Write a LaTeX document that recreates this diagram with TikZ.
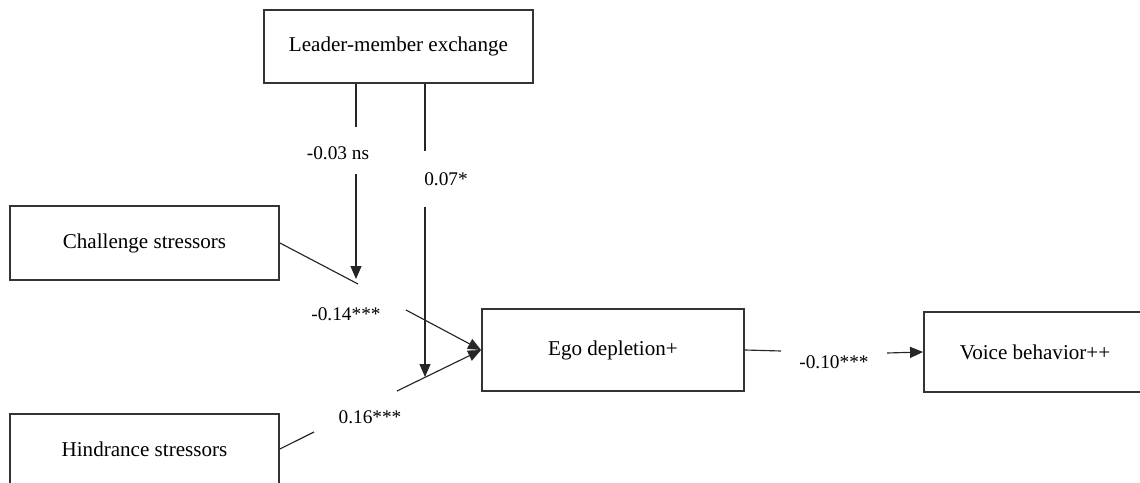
\documentclass[tikz,border=0pt]{standalone}
\usepackage{fontspec}
\setmainfont{Liberation Serif}
\usetikzlibrary{arrows.meta,positioning,calc}
\tikzset{
    box/.style={
        rectangle,
        draw=black!80,
        line width=1.1pt,
        fill=white,
        inner sep=0pt,
        align=center,
        font=\fontsize{12}{14}\selectfont
    },
    coef/.style={
        inner sep=0pt,
        font=\fontsize{11}{13}\selectfont
    },
    conn/.style={
        draw=black!85,
        line width=0.65pt
    }
}

\begin{document}
\begin{tikzpicture}[x=0.02cm, y=-0.02cm, >={Triangle[length=2.6mm, width=2.2mm]}]

    \useasboundingbox (0,0) rectangle (1140,483);

    % Caixas
    \node[box, minimum width=5.38cm, minimum height=1.46cm] (LMX) at (398.5,46.5) {Leader-member exchange};
    \node[box, minimum width=5.38cm, minimum height=1.48cm] (CS) at (144.5,243) {Challenge stressors};
    \node[box, minimum width=5.38cm, minimum height=1.40cm] (HS) at (144.5,449) {Hindrance stressors};
    \node[box, minimum width=5.24cm, minimum height=1.64cm] (ED) at (613,350) {Ego depletion+};
    \node[box, minimum width=4.44cm, minimum height=1.60cm] (VB) at (1035,352) {Voice behavior++};

    % Pontas soltas das linhas
    \coordinate (M1a) at (356,127);
    \coordinate (M1b) at (356,174);
    \coordinate (M1c) at (356,279);
    \coordinate (M2a) at (425,151);
    \coordinate (M2b) at (425,207);
    \coordinate (M2c) at (425,377);
    \coordinate (CSa) at (358,284);
    \coordinate (CSb) at (406,310);
    \coordinate (HSa) at (314,432);
    \coordinate (HSb) at (397,391);
    \coordinate (EDa) at (781,351);
    \coordinate (EDb) at (887,353);

    % Moderacao (LMX)
    \draw[conn] (LMX.south -| M1a) -- (M1a);
    \draw[conn, ->] (M1b) -- (M1c);
    \draw[conn] (LMX.south -| M2a) -- (M2a);
    \draw[conn, ->] (M2b) -- (M2c);

    % Efeitos principais
    \draw[conn] (CS.east) -- (CSa);
    \draw[conn, ->] (CSb) -- (ED.west);
    \draw[conn] (HS.east) -- (HSa);
    \draw[conn, ->] (HSb) -- (ED.west);
    \draw[conn] (ED.east) -- (EDa);
    \draw[conn, ->] (EDb) -- (VB.west);

    % Coeficientes
    \node[coef] (K1) at (338,153) {-0.03 ns};
    \node[coef] (K2) at (446,179) {0.07*};
    \node[coef] (K3) at (346,314) {-0.14***};
    \node[coef] (K4) at (370,417) {0.16***};
    \node[coef] (K5) at (834,362) {-0.10***};

\end{tikzpicture}
\end{document}
